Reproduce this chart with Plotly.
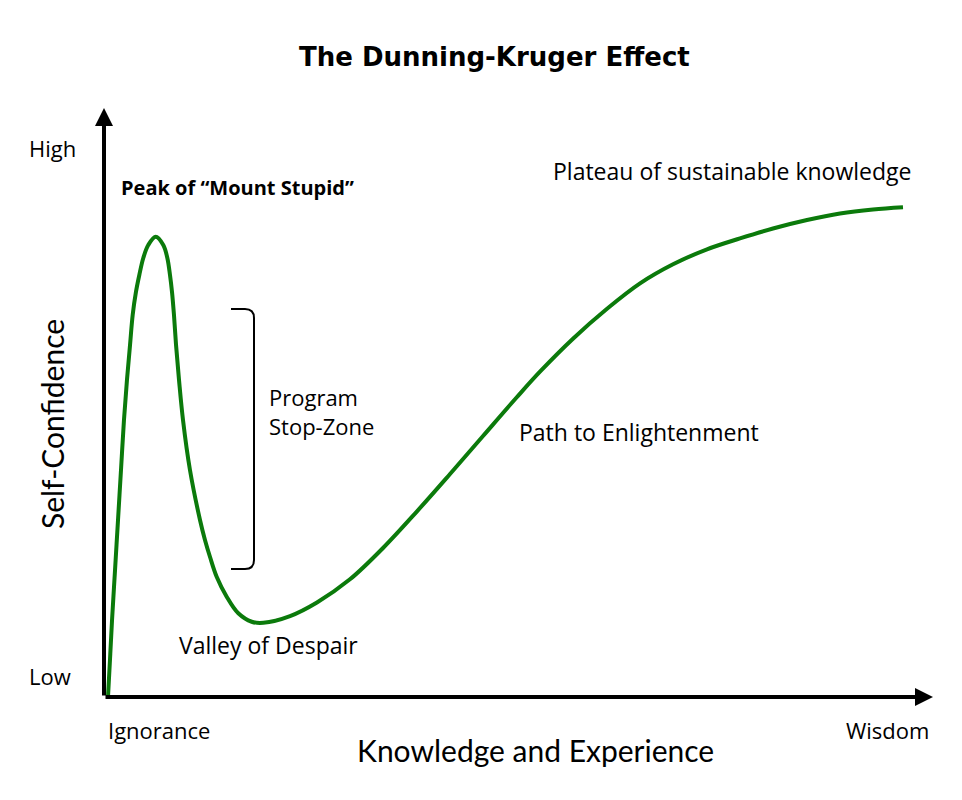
import plotly.graph_objects as go

# Curve, as reference-pixel positions converted to 0-100 axis units below
curve_px_x = [108, 110, 112, 115, 118, 121, 124, 127, 130, 132.7, 136, 139.3, 143.3, 148.3,
              155.7, 163.3, 167.3, 170, 172, 174, 176, 179, 183, 190, 200, 205, 210,
              216.7, 226.7, 238.3, 251.7, 263.3, 290, 317, 350, 383, 417, 450, 483,
              517, 540, 573, 607, 640, 673, 707, 740, 773, 807, 840, 873, 903]
curve_px_y = [697, 660, 620, 570, 520, 470, 420, 380, 345, 315, 291.7, 275, 258, 245,
              236.7, 245, 258, 275, 291.7, 315, 345, 380, 420, 470, 520, 540, 557,
              576.7, 596.7, 613.3, 621.7, 622.7, 616, 602.4, 579.3, 548, 511.3, 474, 436,
              397, 371.7, 338.7, 308.8, 283.4, 264.3, 249.3, 238.4, 228.5, 220, 213.5, 209.5, 207.3]

title_text = "The Dunning-Kruger Effect"
x_title = "Knowledge and Experience"
y_title = "Self-Confidence"
x_ticklabels = ["Ignorance", "Wisdom"]
y_ticklabels = ["Low", "High"]
stage_labels = ["Peak of “Mount Stupid”", "Valley of Despair", "Path to Enlightenment",
                "Plateau of sustainable knowledge", "Program<br>Stop-Zone"]

# page body has an 8px margin, so the figure is drawn 8px smaller and offset
OFF = 8
W, H = 962 - OFF, 800 - OFF
L, R, T, B = 104, 29, 108, 103   # in reference-page pixels
PW, PH = 962 - L - R, 800 - T - B

def bx(x):
    return (x - L) / PW * 100

def by(y):
    return (800 - B - y) / PH * 100

knowledge = [round(bx(v), 2) for v in curve_px_x]
confidence = [round(by(v), 2) for v in curve_px_y]

def px(x):
    return (x - L) / PW

def py(y):
    return (800 - B - y) / PH

FONT = "Open Sans"
AXF = "Lato"
fig = go.Figure()
fig.add_trace(go.Scatter(x=knowledge, y=confidence, mode="lines",
                         line=dict(color="#0b7a0b", width=4, shape="spline", smoothing=1),
                         hoverinfo="skip", cliponaxis=False))

ann = []
# axis arrows
ann.append(dict(x=100, y=0, ax=0, ay=0, xref="x", yref="y", axref="x", ayref="y",
                showarrow=True, arrowhead=2, arrowsize=0.9, arrowwidth=4, arrowcolor="black", text=""))
ann.append(dict(x=0, y=100, ax=0, ay=0, xref="x", yref="y", axref="x", ayref="y",
                showarrow=True, arrowhead=2, arrowsize=0.9, arrowwidth=4, arrowcolor="black", text=""))

def txt(text, x, y, size, xanchor="left", yanchor="middle", bold=False, angle=0,
        align="left", family=FONT):
    ann.append(dict(text=("<b>%s</b>" % text) if bold else text, x=px(x), y=py(y),
                    xref="paper", yref="paper", showarrow=False, xanchor=xanchor, yanchor=yanchor,
                    textangle=angle, align=align,
                    font=dict(family=family, size=size, color="black")))

txt(title_text, 494, 57, 26, xanchor="center", bold=True, family="DejaVu Sans")
txt(x_title, 535, 750, 30, xanchor="center", family=AXF)
txt(y_title, 52, 424, 30, xanchor="center", angle=-90, family=AXF)
txt(x_ticklabels[0], 106, 730, 22)
txt(x_ticklabels[1], 931, 730, 22, xanchor="right")
txt(y_ticklabels[0], 27, 676, 22)
txt(y_ticklabels[1], 27, 148, 22)
txt(stage_labels[0], 119, 187, 20, bold=True)
txt(stage_labels[1], 177, 645, 23)
txt(stage_labels[2], 517, 432, 23)
txt(stage_labels[3], 551, 171, 23)
txt(stage_labels[4], 267, 411, 22)

# bracket for Program Stop-Zone
path = ("M %f,%f L %f,%f Q %f,%f %f,%f L %f,%f Q %f,%f %f,%f L %f,%f" % (
    bx(231), by(309), bx(245), by(309), bx(254), by(309), bx(254), by(318),
    bx(254), by(560), bx(254), by(569), bx(245), by(569), bx(231), by(569)))

fig.update_layout(
    width=W, height=H, margin=dict(l=L - OFF, r=R, t=T - OFF, b=B, autoexpand=False),
    plot_bgcolor="white", paper_bgcolor="white", showlegend=False,
    xaxis=dict(range=[0, 100], visible=False, fixedrange=True),
    yaxis=dict(range=[0, 100], visible=False, fixedrange=True),
    annotations=ann,
    shapes=[dict(type="path", path=path, xref="x", yref="y",
                 line=dict(color="black", width=2))],
)
fig.write_html("out.html")
